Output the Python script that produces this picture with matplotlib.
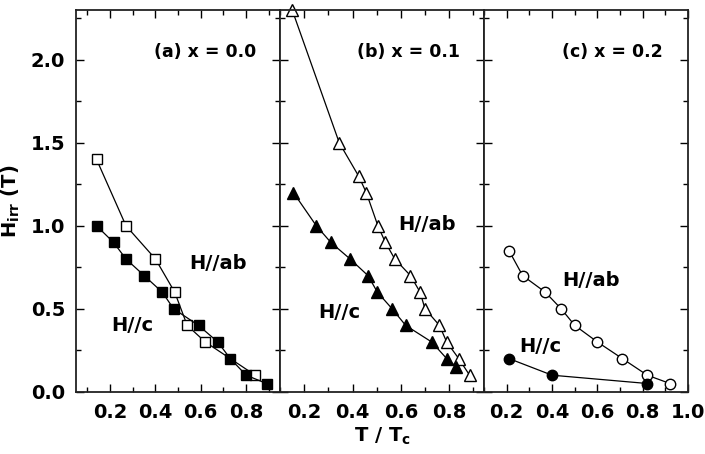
import matplotlib.pyplot as plt
from matplotlib.ticker import MultipleLocator

plt.rcParams['font.family'] = ['DejaVu Sans']
plt.rcParams['font.weight'] = 'bold'
plt.rcParams['mathtext.fontset'] = 'custom'
plt.rcParams['mathtext.rm'] = 'DejaVu Sans:bold'
plt.rcParams['mathtext.it'] = 'DejaVu Sans:bold'
plt.rcParams['mathtext.bf'] = 'DejaVu Sans:bold'

# (a) x = 0.0
a_ab_t = [0.14, 0.27, 0.40, 0.485, 0.54, 0.62, 0.84]
a_ab_h = [1.40, 1.00, 0.80, 0.60, 0.40, 0.30, 0.10]
a_c_t = [0.14, 0.215, 0.27, 0.35, 0.43, 0.48, 0.59, 0.675, 0.73, 0.80, 0.89]
a_c_h = [1.00, 0.90, 0.80, 0.70, 0.60, 0.50, 0.40, 0.30, 0.20, 0.10, 0.05]

# (b) x = 0.1
b_ab_t = [0.15, 0.345, 0.425, 0.457, 0.505, 0.536, 0.575, 0.64, 0.68, 0.70,
          0.76, 0.79, 0.84, 0.885]
b_ab_h = [2.30, 1.50, 1.30, 1.20, 1.00, 0.90, 0.80, 0.70, 0.60, 0.50,
          0.40, 0.30, 0.20, 0.10]
b_c_t = [0.155, 0.25, 0.31, 0.39, 0.464, 0.503, 0.564, 0.62, 0.728, 0.79, 0.83]
b_c_h = [1.20, 1.00, 0.90, 0.80, 0.70, 0.60, 0.50, 0.40, 0.30, 0.20, 0.15]

# (c) x = 0.2
c_ab_t = [0.21, 0.27, 0.37, 0.44, 0.50, 0.60, 0.71, 0.82, 0.92]
c_ab_h = [0.85, 0.70, 0.60, 0.50, 0.40, 0.30, 0.20, 0.10, 0.05]
c_c_t = [0.21, 0.40, 0.82]
c_c_h = [0.20, 0.10, 0.05]

fig, axes = plt.subplots(1, 3, figsize=(7.05, 4.54), dpi=100, sharey=True)
fig.subplots_adjust(left=0.108, right=0.976, top=0.978, bottom=0.137, wspace=0)

panels = [
    (a_ab_t, a_ab_h, a_c_t, a_c_h, 's', '(a) x = 0.0', (0.05, 0.95),
     (0.675, 0.77), (0.30, 0.40)),
    (b_ab_t, b_ab_h, b_c_t, b_c_h, '^', '(b) x = 0.1', (0.10, 0.945),
     (0.71, 1.01), (0.345, 0.48)),
    (c_ab_t, c_ab_h, c_c_t, c_c_h, 'o', '(c) x = 0.2', (0.10, 1.0),
     (0.57, 0.67), (0.35, 0.27)),
]

for ax, (t1, h1, t2, h2, m, title, xl, pos_ab, pos_c) in zip(axes, panels):
    ms = 9 if m == '^' else 7.5
    ax.plot(t1, h1, '-', color='black', lw=0.9, marker=m, ms=ms,
            mfc='white', mec='black', mew=1.0, clip_on=False)
    ax.plot(t2, h2, '-', color='black', lw=0.9, marker=m, ms=ms,
            mfc='black', mec='black', mew=1.0, clip_on=False)
    ax.set_xlim(*xl)
    ax.set_ylim(0, 2.3)
    ax.xaxis.set_major_locator(MultipleLocator(0.2))
    ax.xaxis.set_minor_locator(MultipleLocator(0.1))
    ax.yaxis.set_major_locator(MultipleLocator(0.5))
    ax.yaxis.set_minor_locator(MultipleLocator(0.25))
    ax.tick_params(which='both', direction='in', top=True, right=True,
                   labelsize=14, width=1.0, pad=8)
    ax.tick_params(which='major', length=6)
    ax.tick_params(which='minor', length=3.5)
    ax.xaxis.set_major_formatter(plt.FuncFormatter(lambda v, p: f'{v:.1f}'))
    for s in ax.spines.values():
        s.set_linewidth(1.3)
        s.set_color('#222222')
    ax.text(0.63, 0.89, title, transform=ax.transAxes, ha='center',
            va='center', fontsize=12.5, fontweight='bold')
    ax.text(*pos_ab, 'H//ab', ha='center', va='center', fontsize=14,
            fontweight='bold')
    ax.text(*pos_c, 'H//c', ha='center', va='center', fontsize=14,
            fontweight='bold')

axes[0].set_xticks([0.2, 0.4, 0.6, 0.8])
axes[1].set_xticks([0.2, 0.4, 0.6, 0.8])
axes[0].yaxis.set_major_formatter(plt.FuncFormatter(lambda v, p: f'{v:.1f}'))
axes[0].set_ylabel(r'H$_{\rm irr}$ (T)', fontsize=14, fontweight='bold',
                   labelpad=6)
axes[1].set_xlabel(r'T / T$_{\rm c}$', fontsize=14, fontweight='bold',
                   labelpad=3)

fig.savefig('out.png', dpi=100)
